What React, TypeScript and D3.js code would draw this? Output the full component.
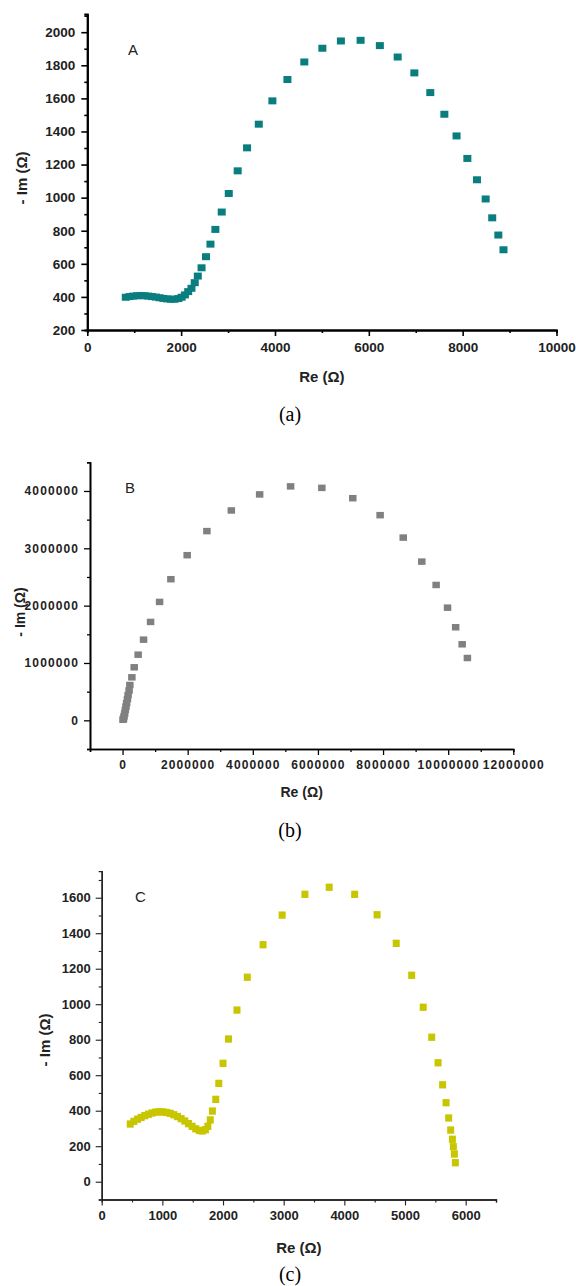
import { useEffect, useRef } from 'react';
import * as d3 from 'd3';

// Panel A (teal)
const reA = [820, 900, 980, 1060, 1140, 1220, 1300, 1380, 1460, 1540, 1620, 1700, 1780, 1860, 1940, 2010, 2080, 2150, 2220, 2290, 2355, 2435, 2530, 2625, 2730, 2865, 3015, 3205, 3405, 3655, 3945, 4265, 4625, 5010, 5405, 5825, 6235, 6615, 6970, 7310, 7610, 7870, 8100, 8305, 8490, 8630, 8760, 8870];
const imA = [398, 402, 405, 407, 408, 407, 405, 402, 399, 395, 391, 388, 386, 386, 390, 398, 412, 432, 452, 486, 526, 576, 643, 719, 808, 913, 1025, 1162, 1301, 1444, 1585, 1714, 1820, 1903, 1947, 1951, 1919, 1850, 1754, 1635, 1504, 1373, 1237, 1108, 992, 878, 774, 685];
const xTicksA = [0, 2000, 4000, 6000, 8000, 10000];
const xMinorA = [1000, 3000, 5000, 7000, 9000];
const yTicksA = [200, 400, 600, 800, 1000, 1200, 1400, 1600, 1800, 2000];
const yMinorA = [300, 500, 700, 900, 1100, 1300, 1500, 1700, 1900, 2100];

// Panel B (grey)
const reB = [15000, 30000, 45000, 65000, 85000, 105000, 125000, 150000, 170000, 200000, 224000, 286000, 357000, 479000, 645000, 860000, 1137000, 1484000, 1985000, 2590000, 3340000, 4210000, 5160000, 6120000, 7070000, 7910000, 8620000, 9190000, 9630000, 9980000, 10230000, 10430000, 10590000];
const imB = [10000, 30000, 70000, 120000, 180000, 240000, 300000, 370000, 440000, 520000, 616000, 750000, 925000, 1145000, 1407000, 1716000, 2065000, 2461000, 2880000, 3300000, 3660000, 3940000, 4080000, 4054000, 3874000, 3578000, 3187000, 2768000, 2361000, 1965000, 1623000, 1326000, 1087000];
const xTicksB = [0, 2000000, 4000000, 6000000, 8000000, 10000000, 12000000];
const xMinorB = [-1000000, 1000000, 3000000, 5000000, 7000000, 9000000, 11000000];
const yTicksB = [0, 1000000, 2000000, 3000000, 4000000];
const yMinorB = [-500000, 500000, 1500000, 2500000, 3500000, 4500000];

// Panel C (yellow)
const reC = [470, 530, 590, 650, 710, 770, 830, 890, 950, 1010, 1070, 1130, 1190, 1250, 1310, 1370, 1430, 1490, 1550, 1610, 1660, 1710, 1750, 1790, 1825, 1880, 1930, 2000, 2090, 2230, 2400, 2660, 2975, 3350, 3750, 4170, 4540, 4855, 5110, 5300, 5440, 5545, 5620, 5677, 5720, 5753, 5781, 5797, 5814, 5830];
const imC = [325, 340, 352, 362, 372, 380, 387, 392, 394, 393, 390, 385, 377, 367, 355, 342, 327, 312, 298, 289, 286, 293, 312, 348, 398, 464, 554, 667, 804, 967, 1152, 1335, 1502, 1619, 1659, 1619, 1504, 1343, 1163, 983, 814, 670, 546, 445, 359, 291, 239, 197, 156, 107];
const xTicksC = [0, 1000, 2000, 3000, 4000, 5000, 6000];
const xMinorC = [500, 1500, 2500, 3500, 4500, 5500, 6500];
const yTicksC = [0, 200, 400, 600, 800, 1000, 1200, 1400, 1600];
const yMinorC = [-100, 100, 300, 500, 700, 900, 1100, 1300, 1500, 1700];

const SANS = '"Liberation Sans", Arial, sans-serif';

const panels = [
  {
    re: reA, im: imA, xTicks: xTicksA, xMinor: xMinorA, yTicks: yTicksA, yMinor: yMinorA,
    xDomain: [0, 10000], yDomain: [200, 2110],
    xRange: [87.3, 556.5], yRange: [330, 14],
    color: '#0a7e7e', mw: 8, mh: 7,
    letter: 'A', letterPos: [128, 55], yTitlePos: [22, 178], xTitleY: 382,
    caption: '(a)', captionY: 421,
    tickFont: 13.5, titleFont: 15, ls: 0, lw: 2, axisColor: '#000', tickPad: 6,
  },
  {
    re: reB, im: imB, xTicks: xTicksB, xMinor: xMinorB, yTicks: yTicksB, yMinor: yMinorB,
    xDomain: [-1000000, 12000000], yDomain: [-500000, 4500000],
    xRange: [90, 513.3], yRange: [749, 462.3],
    color: '#808080', mw: 7.5, mh: 6.5,
    letter: 'B', letterPos: [125, 493], yTitlePos: [20, 612], xTitleY: 797,
    caption: '(b)', captionY: 837,
    tickFont: 12, titleFont: 14, ls: 1.1, lw: 1.6, axisColor: '#000', tickPad: 5,
  },
  {
    re: reC, im: imC, xTicks: xTicksC, xMinor: xMinorC, yTicks: yTicksC, yMinor: yMinorC,
    xDomain: [0, 6500], yDomain: [-100, 1750],
    xRange: [101.7, 496], yRange: [1199.45, 871.1],
    color: '#c8c600', mw: 7, mh: 7.3,
    letter: 'C', letterPos: [135, 902], yTitlePos: [45, 1040], xTitleY: 1253,
    caption: '(c)', captionY: 1281,
    tickFont: 13, titleFont: 15, ls: 0, lw: 1.4, axisColor: '#222', tickPad: 5,
  },
];

const App = () => {
  const svgRef = useRef(null);

  useEffect(() => {
    const svg = d3.select(svgRef.current);
    svg.selectAll('*').remove();

    panels.forEach(p => {
      const x = d3.scaleLinear().domain(p.xDomain).range(p.xRange);
      const y = d3.scaleLinear().domain(p.yDomain).range(p.yRange);
      const g = svg.append('g');

      // minor ticks
      g.append('g')
        .attr('transform', `translate(0,${p.yRange[0]})`)
        .call(d3.axisBottom(x).tickValues(p.xMinor).tickSize(3).tickFormat(() => ''));
      g.append('g')
        .attr('transform', `translate(${p.xRange[0]},0)`)
        .call(d3.axisLeft(y).tickValues(p.yMinor).tickSize(3).tickFormat(() => ''));

      // major ticks
      g.append('g')
        .attr('transform', `translate(0,${p.yRange[0]})`)
        .call(d3.axisBottom(x).tickValues(p.xTicks).tickSize(6).tickSizeOuter(0)
          .tickPadding(p.tickPad).tickFormat(d3.format('d')));
      g.append('g')
        .attr('transform', `translate(${p.xRange[0]},0)`)
        .call(d3.axisLeft(y).tickValues(p.yTicks).tickSize(6).tickSizeOuter(0)
          .tickPadding(p.tickPad).tickFormat(d3.format('d')));

      g.selectAll('.domain').attr('stroke', p.axisColor).attr('stroke-width', p.lw);
      g.selectAll('.tick line').attr('stroke', p.axisColor).attr('stroke-width', p.lw * 0.8);
      g.selectAll('.tick text')
        .attr('font-family', SANS)
        .attr('font-weight', 'bold')
        .attr('font-size', p.tickFont)
        .attr('letter-spacing', p.ls)
        .attr('fill', '#222');

      // markers
      g.append('g')
        .selectAll('rect')
        .data(p.re.map((r, i) => [r, p.im[i]]))
        .join('rect')
        .attr('x', d => x(d[0]) - p.mw / 2)
        .attr('y', d => y(d[1]) - p.mh / 2)
        .attr('width', p.mw)
        .attr('height', p.mh)
        .attr('fill', p.color);

      // texts
      g.append('text')
        .attr('x', p.letterPos[0])
        .attr('y', p.letterPos[1])
        .attr('font-family', SANS)
        .attr('font-size', 15)
        .attr('fill', '#222')
        .text(p.letter);

      g.append('text')
        .attr('transform', `translate(${p.yTitlePos[0]},${p.yTitlePos[1]}) rotate(-90)`)
        .attr('text-anchor', 'middle')
        .attr('dy', '0.35em')
        .attr('font-family', SANS)
        .attr('font-weight', 'bold')
        .attr('font-size', p.titleFont)
        .attr('fill', '#222')
        .text('- Im (Ω)');

      g.append('text')
        .attr('x', (p.xRange[0] + p.xRange[1]) / 2)
        .attr('y', p.xTitleY)
        .attr('text-anchor', 'middle')
        .attr('font-family', SANS)
        .attr('font-weight', 'bold')
        .attr('font-size', p.titleFont)
        .attr('fill', '#222')
        .text('Re (Ω)');

      g.append('text')
        .attr('x', 290)
        .attr('y', p.captionY)
        .attr('text-anchor', 'middle')
        .attr('font-family', '"Liberation Serif", "Times New Roman", serif')
        .attr('font-size', 20)
        .attr('fill', '#000')
        .text(p.caption);
    });
  }, []);

  return (
    <svg
      ref={svgRef}
      width={576}
      height={1286}
      style={{ position: 'absolute', left: 0, top: 0, background: '#fff' }}
    />
  );
};

export default App;
